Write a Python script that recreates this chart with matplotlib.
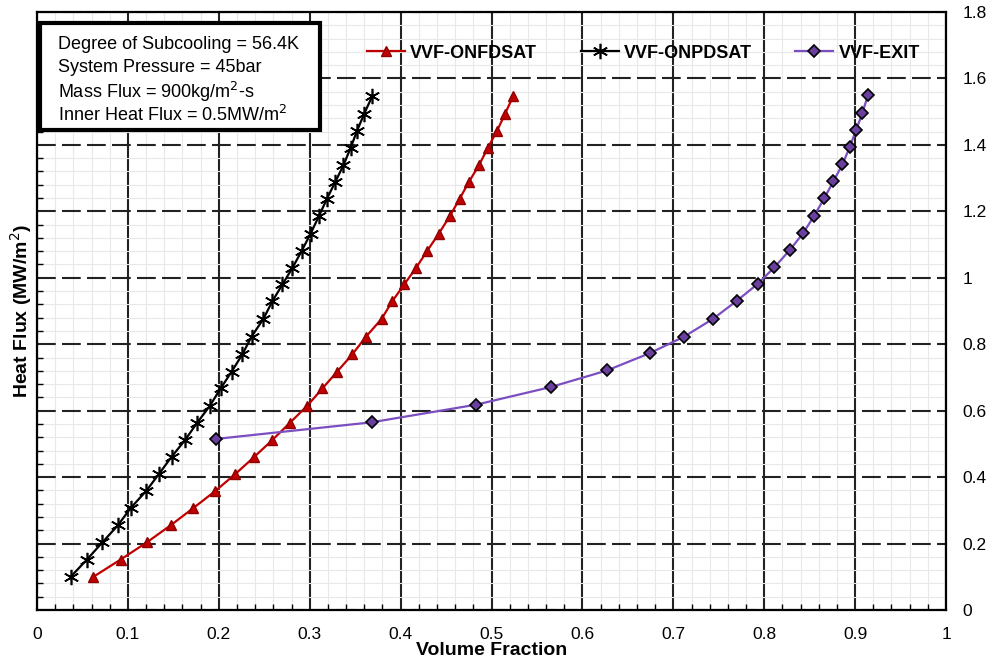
import matplotlib
matplotlib.use('Agg')
import matplotlib.pyplot as plt
from matplotlib.patches import Rectangle
from matplotlib.ticker import MultipleLocator, FormatStrFormatter

plt.rcParams['font.family'] = ['Liberation Sans', 'DejaVu Sans']

# heat flux levels (MW/m2) shared by the ONFDSAT / ONPDSAT curves
heat_flux = [0.100, 0.152, 0.204, 0.255, 0.307, 0.358, 0.409, 0.461, 0.512, 0.563,
             0.614, 0.667, 0.717, 0.770, 0.823, 0.876, 0.930, 0.980, 1.030, 1.080,
             1.133, 1.185, 1.238, 1.288, 1.338, 1.391, 1.442, 1.494, 1.548]

vvf_onfdsat = [0.062, 0.092, 0.121, 0.147, 0.172, 0.196, 0.218, 0.239, 0.259, 0.278,
               0.297, 0.314, 0.330, 0.347, 0.362, 0.379, 0.391, 0.404, 0.417, 0.429,
               0.442, 0.454, 0.465, 0.475, 0.486, 0.496, 0.506, 0.515, 0.524]

vvf_onpdsat = [0.037, 0.055, 0.072, 0.089, 0.103, 0.120, 0.134, 0.148, 0.163, 0.176,
               0.190, 0.202, 0.214, 0.226, 0.236, 0.249, 0.259, 0.270, 0.281, 0.291,
               0.301, 0.310, 0.319, 0.328, 0.337, 0.345, 0.352, 0.360, 0.369]

exit_flux = [0.515, 0.565, 0.618, 0.671, 0.721, 0.773, 0.823, 0.877, 0.931, 0.982,
             1.031, 1.083, 1.135, 1.187, 1.239, 1.290, 1.341, 1.393, 1.444, 1.496, 1.549]
vvf_exit = [0.197, 0.368, 0.483, 0.565, 0.627, 0.674, 0.712, 0.744, 0.770, 0.793,
            0.811, 0.828, 0.843, 0.855, 0.866, 0.876, 0.886, 0.894, 0.901, 0.908, 0.914]

info_lines = ['Degree of Subcooling = 56.4K',
              'System Pressure = 45bar',
              'Mass Flux = 900kg/m$^2$-s',
              'Inner Heat Flux = 0.5MW/m$^2$']

fig = plt.figure(figsize=(10.03, 6.62), dpi=100)
ax = fig.add_axes([0.0369, 0.0785, 0.9063, 0.9034])

ax.plot(vvf_onfdsat, heat_flux, color='#c00000', lw=1.6, marker='^', ms=7.5,
        mfc='#c00000', mec='#900000', label='VVF-ONFDSAT', zorder=4)
ax.plot(vvf_onpdsat, heat_flux, color='black', lw=1.6, marker=(6, 2, 0), ms=11,
        mew=1.2, label='VVF-ONPDSAT', zorder=4)
ax.plot(vvf_exit, exit_flux, color='#7b4fc0', lw=1.6, marker='D', ms=6.5,
        mfc='#6b3fa0', mec='black', mew=1.2, label='VVF-EXIT', zorder=4)

ax.set_xlim(0, 1)
ax.set_ylim(0, 1.8)
ax.xaxis.set_major_locator(MultipleLocator(0.1))
ax.xaxis.set_minor_locator(MultipleLocator(0.02))
ax.yaxis.set_major_locator(MultipleLocator(0.2))
ax.yaxis.set_minor_locator(MultipleLocator(0.04))
ax.xaxis.set_major_formatter(FormatStrFormatter('%g'))
ax.yaxis.set_major_formatter(FormatStrFormatter('%g'))

# grids: light minor, dark solid verticals, dark dashed horizontals
ax.grid(which='minor', color='#e8e8e8', lw=0.8)
ax.xaxis.grid(which='major', color='#222222', lw=1.5, ls='-')
ax.yaxis.grid(which='major', color='#222222', lw=1.5, ls=(0, (9, 3)))
ax.set_axisbelow(True)

ax.yaxis.tick_right()
ax.tick_params(axis='both', which='major', length=0, labelsize=12.5)
ax.tick_params(axis='x', which='major', pad=12)
ax.tick_params(axis='y', which='major', pad=12)
ax.tick_params(axis='x', which='minor', direction='in', length=4, width=1, bottom=True)
ax.tick_params(axis='y', which='minor', direction='in', length=4, width=1,
               left=True, right=False)
for s in ax.spines.values():
    s.set_linewidth(1.6)

ax.set_xlabel('Volume Fraction', fontsize=14, fontweight='bold', labelpad=0)
ax.set_ylabel('Heat Flux (MW/m$^2$)', fontsize=14, fontweight='bold')
ax.yaxis.set_label_position('left')
ax.yaxis.labelpad = 2

leg = ax.legend(loc='center left', bbox_to_anchor=(0.363, 0.931), ncol=3,
                frameon=False, prop={'weight': 'bold', 'size': 13},
                handlelength=2.1, handletextpad=0.3, columnspacing=2.4,
                borderaxespad=0, borderpad=0)

# info box
ax.add_patch(Rectangle((0.0033, 0.8027), 0.3077, 0.1789, transform=ax.transAxes,
                       fc='white', ec='black', lw=3, zorder=5))
for txt, yy in zip(info_lines, [0.9448, 0.9064, 0.8662, 0.8278]):
    ax.text(0.0231, yy, txt, transform=ax.transAxes, fontsize=13,
            va='center', ha='left', zorder=6)

fig.savefig('out.png', dpi=100)
